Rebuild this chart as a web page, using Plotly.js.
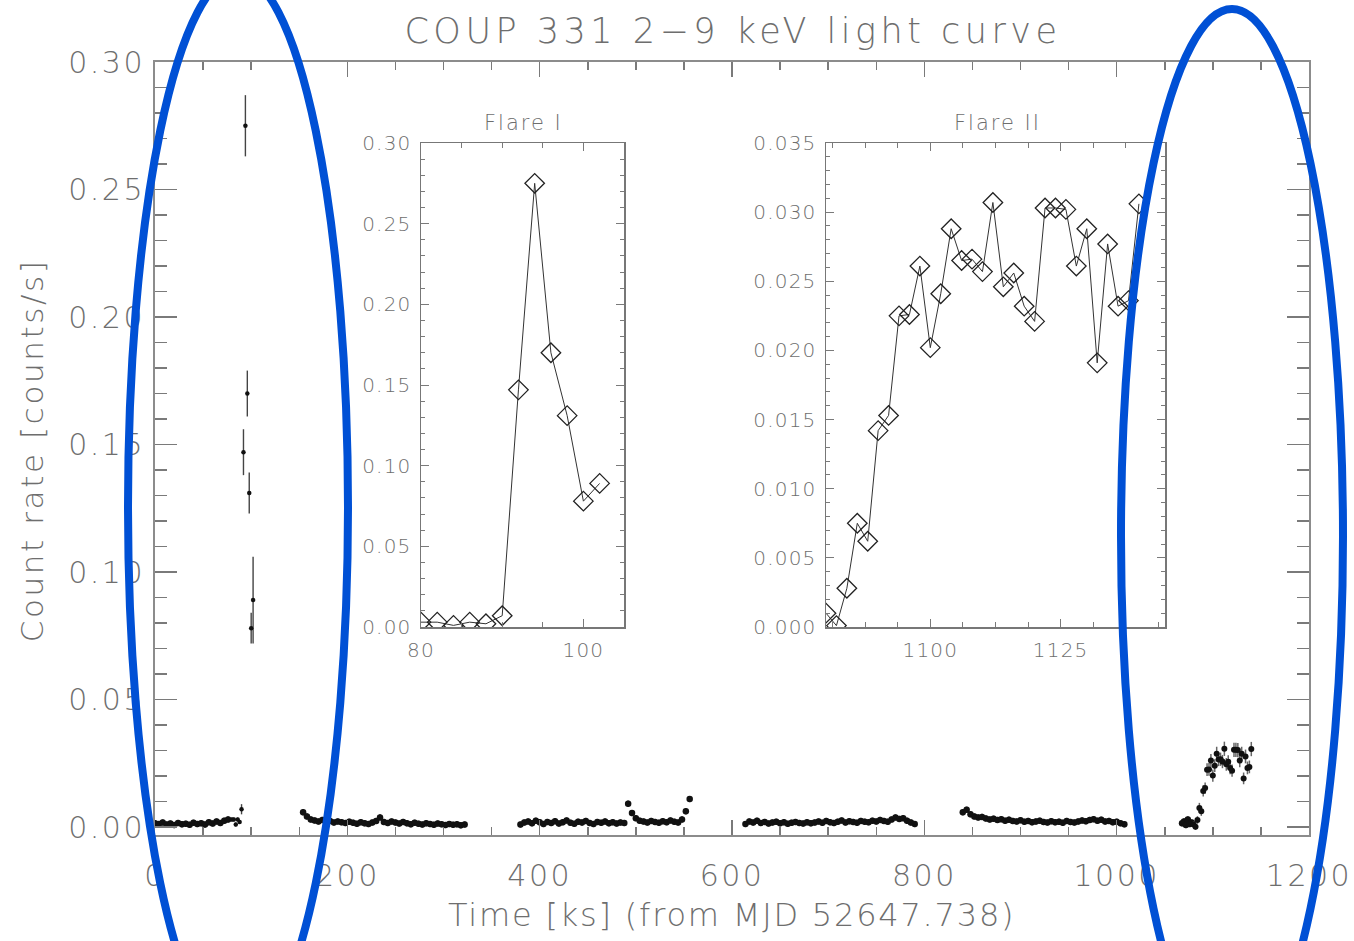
<!DOCTYPE html>
<html><head><meta charset="utf-8">
<script src="https://cdn.plot.ly/plotly-3.0.1.min.js"></script>
<style>
body{margin:0;background:#fff}
#chart svg text{letter-spacing:2.5px}
#chart svg .x2y2 text, #chart svg .x3y3 text{letter-spacing:1.2px}
#chart svg .gtitle{letter-spacing:4.5px}
#chart svg .annotation-text.xt{letter-spacing:1.8px}
#chart svg .annotation-text.yt{letter-spacing:2.6px}
#chart svg .annotation-text.it{letter-spacing:2px}
</style>
</head><body><div id="chart" style="width:1354px;height:941px"></div>
<script>
// ---- Data (time in ks from MJD 52647.738, count rate in counts/s) ----
const seg1X = [0,4,8,12,16,20,24,28,32,36,40,44,48,52,56,60,64,68,72,76];
const seg1Y = [0.0015,0.0012,0.0018,0.0010,0.0014,0.0008,0.0016,0.0011,0.0013,0.0009,0.0017,0.0012,0.0015,0.0010,0.0019,0.0014,0.0022,0.0016,0.0025,0.0030];

const seg2X = [154,158,162,166,170,174,178,182,186,190,194,198,202,206,210,214,218,222,226,230,234,238,242,246,250,254,258,262,266,270,274,278,282,286,290,294,298,302,306,310,314,318,322];
const seg2Y = [0.0058,0.0042,0.0030,0.0026,0.0022,0.0028,0.0020,0.0024,0.0018,0.0022,0.0019,0.0016,0.0021,0.0017,0.0013,0.0019,0.0015,0.0012,0.0018,0.0024,0.0038,0.0020,0.0016,0.0022,0.0018,0.0014,0.0020,0.0015,0.0011,0.0017,0.0013,0.0010,0.0015,0.0012,0.0009,0.0014,0.0011,0.0008,0.0012,0.0009,0.0011,0.0007,0.0010];

const seg3X = [380,384,388,392,396,400,404,408,412,416,420,424,428,432,436,440,444,448,452,456,460,464,468,472,476,480,484,488];
const seg3Y = [0.0010,0.0018,0.0022,0.0015,0.0025,0.0019,0.0012,0.0020,0.0016,0.0023,0.0014,0.0019,0.0026,0.0017,0.0013,0.0021,0.0018,0.0024,0.0016,0.0012,0.0020,0.0017,0.0022,0.0015,0.0019,0.0014,0.0018,0.0016];

const seg4X = [492,496,500,504,508,512,516,520,524,528,532,536,540,544,548,552,556];
const seg4Y = [0.0092,0.0055,0.0035,0.0025,0.0022,0.0018,0.0024,0.0020,0.0017,0.0023,0.0019,0.0026,0.0021,0.0018,0.0030,0.0062,0.0110];

const seg5X = [614,618,622,626,630,634,638,642,646,650,654,658,662,666,670,674,678,682,686,690,694,698,702,706,710,714,718,722,726,730,734,738,742,746,750,754,758,762,766,770,774,778,782,786,790];
const seg5Y = [0.0012,0.0022,0.0018,0.0025,0.0016,0.0020,0.0014,0.0018,0.0021,0.0015,0.0019,0.0013,0.0017,0.0020,0.0016,0.0014,0.0019,0.0015,0.0018,0.0022,0.0017,0.0024,0.0019,0.0016,0.0021,0.0026,0.0018,0.0023,0.0020,0.0017,0.0024,0.0021,0.0019,0.0025,0.0022,0.0028,0.0024,0.0021,0.0030,0.0038,0.0032,0.0035,0.0025,0.0018,0.0012];

const seg6X = [840,844,848,852,856,860,864,868,872,876,880,884,888,892,896,900,904,908,912,916,920,924,928,932,936,940,944,948,952,956,960,964,968,972,976,980,984,988,992,996,1000,1004,1008];
const seg6Y = [0.0058,0.0068,0.0050,0.0042,0.0038,0.0040,0.0034,0.0030,0.0033,0.0028,0.0031,0.0025,0.0029,0.0024,0.0022,0.0027,0.0021,0.0024,0.0019,0.0022,0.0025,0.0020,0.0018,0.0023,0.0019,0.0021,0.0017,0.0024,0.0020,0.0018,0.0022,0.0026,0.0023,0.0028,0.0031,0.0025,0.0029,0.0022,0.0024,0.0019,0.0021,0.0015,0.0011];

const preFlare2X = [1068,1070,1072,1074,1076,1078];
const preFlare2Y = [0.0015,0.0022,0.0008,0.0030,0.0012,0.0018];

const flare1X = [80,82,84,86,88,90,92,94,96,98,100,102];
const flare1Y = [0.003,0.003,0.001,0.003,0.002,0.007,0.147,0.275,0.170,0.131,0.078,0.089];
const flare1Err = [0.0008,0.0008,0.0008,0.0008,0.0008,0.002,0.009,0.012,0.009,0.008,0.006,0.017];

const flare2X = [1080,1082,1084,1086,1088,1090,1092,1094,1096,1098,1100,1102,1104,1106,1108,1110,1112,1114,1116,1118,1120,1122,1124,1126,1128,1130,1132,1134,1136,1138,1140];
const flare2Y = [0.0010,0.0001,0.0028,0.0075,0.0062,0.0142,0.0153,0.0225,0.0226,0.0261,0.0202,0.0241,0.0288,0.0265,0.0266,0.0257,0.0307,0.0246,0.0256,0.0232,0.0221,0.0303,0.0303,0.0302,0.0261,0.0288,0.0191,0.0277,0.0232,0.0236,0.0306];
const flare2Err = [0.0012,0.0012,0.0015,0.0020,0.0018,0.0022,0.0022,0.0025,0.0025,0.0026,0.0024,0.0025,0.0027,0.0026,0.0026,0.0026,0.0028,0.0025,0.0026,0.0025,0.0024,0.0028,0.0028,0.0028,0.0026,0.0027,0.0023,0.0027,0.0025,0.0025,0.0028];
const quietErr = 0.0012;

const mainTitle = 'COUP 331 2\u22129 keV light curve';
const xTitle = 'Time [ks] (from MJD 52647.738)';
const yTitle = 'Count rate [counts/s]';
const inset1Title = 'Flare I';
const inset2Title = 'Flare II';

// ---- Build ----
const quietX = [].concat(seg1X, seg2X, seg3X, seg4X, seg5X, seg6X, preFlare2X);
const quietY = [].concat(seg1Y, seg2Y, seg3Y, seg4Y, seg5Y, seg6Y, preFlare2Y);

const FONT = 'DejaVu Sans';
const WT = 200;
const TXT = '#6e6e6e';
const AX = '#8c8c8c';

const traces = [
  {x: quietX, y: quietY, type:'scatter', mode:'markers', marker:{color:'#111', size:6.5, symbol:'circle'},
   error_y:{type:'constant', value: quietErr, color:'#333', thickness:2, width:0},
   xaxis:'x', yaxis:'y', hoverinfo:'x+y'},
  {x: flare1X, y: flare1Y, type:'scatter', mode:'markers', marker:{color:'#111', size:4.5},
   error_y:{type:'data', array: flare1Err, color:'#444', thickness:1.4, width:0},
   xaxis:'x', yaxis:'y'},
  {x: flare2X, y: flare2Y, type:'scatter', mode:'markers', marker:{color:'#111', size:6, symbol:'circle'},
   error_y:{type:'data', array: flare2Err, color:'#666', thickness:1.5, width:0},
   xaxis:'x', yaxis:'y'},
  {x: flare1X, y: flare1Y, type:'scatter', mode:'lines+markers',
   line:{color:'#333', width:1},
   marker:{symbol:'diamond-open', size:15, color:'#222', line:{width:1.3}},
   xaxis:'x2', yaxis:'y2'},
  {x: flare2X, y: flare2Y, type:'scatter', mode:'lines+markers',
   line:{color:'#333', width:1},
   marker:{symbol:'diamond-open', size:15, color:'#222', line:{width:1.3}},
   xaxis:'x3', yaxis:'y3'}
];

function axis(o){
  return Object.assign({
    showline:true, linecolor:AX, linewidth:2, mirror:'ticks',
    ticks:'inside', tickcolor:'#7a7a7a', tickwidth:1.5,
    showgrid:false, zeroline:false, fixedrange:true,
    tickfont:{family:FONT, size:30, color:TXT, weight:WT}
  }, o);
}

const W = 1354, H = 941;
const px = v => v / W;
const py = v => 1 - v / H;
const smallFont = {family:FONT, size:20, color:TXT, weight:WT};

const layout = {
  width: W, height: H,
  margin:{l:0, r:0, t:0, b:0},
  paper_bgcolor:'#fff', plot_bgcolor:'rgba(0,0,0,0)',
  showlegend:false,
  font:{family:FONT, color:TXT, weight:WT},
  title:{text: mainTitle, x: px(733), xref:'paper', xanchor:'center', y: py(31), yref:'paper', yanchor:'middle',
         font:{family:FONT, size:35, color:TXT, weight:WT}},
  xaxis: axis({domain:[px(155), px(1309)], range:[0,1200], anchor:'y',
    tick0:0, dtick:200, ticklen:15, ticklabelstandoff:13,
    minor:{ticks:'inside', dtick:50, ticklen:8, tickcolor:'#7a7a7a', tickwidth:1.5}}),
  yaxis: axis({domain:[py(835), py(62)], range:[-0.0031, 0.30], anchor:'x',
    tick0:0, dtick:0.05, tickformat:'.2f', ticklen:22, ticklabelstandoff:2,
    minor:{ticks:'inside', dtick:0.01, ticklen:12, tickcolor:'#7a7a7a', tickwidth:1.5}}),
  xaxis2: axis({domain:[px(421), px(624)], range:[80,105], anchor:'y2',
    linewidth:1.5, linecolor:'#777', tick0:80, dtick:20, ticklen:8, tickwidth:1,
    tickfont:smallFont, ticklabelstandoff:4,
    minor:{ticks:'inside', dtick:5, ticklen:5, tickcolor:'#7a7a7a', tickwidth:1}}),
  yaxis2: axis({domain:[py(627), py(143)], range:[0,0.30], anchor:'x2',
    linewidth:1.5, linecolor:'#777', tick0:0, dtick:0.05, tickformat:'.2f', ticklen:8, tickwidth:1,
    tickfont:smallFont, ticklabelstandoff:4,
    minor:{ticks:'inside', dtick:0.01, ticklen:4, tickcolor:'#7a7a7a', tickwidth:1}}),
  xaxis3: axis({domain:[px(826), px(1165)], range:[1080,1145], anchor:'y3',
    linewidth:1.5, linecolor:'#777', tick0:1100, dtick:25, ticklen:8, tickwidth:1,
    tickfont:smallFont, ticklabelstandoff:4,
    minor:{ticks:'inside', tick0:1100, dtick:6.25, ticklen:5, tickcolor:'#7a7a7a', tickwidth:1}}),
  yaxis3: axis({domain:[py(627), py(143)], range:[0,0.035], anchor:'x3',
    linewidth:1.5, linecolor:'#777', tick0:0, dtick:0.005, tickformat:'.3f', ticklen:8, tickwidth:1,
    tickfont:smallFont, ticklabelstandoff:4,
    minor:{ticks:'inside', dtick:0.001, ticklen:4, tickcolor:'#7a7a7a', tickwidth:1}}),
  annotations:[
    {text:xTitle, xref:'paper', yref:'paper', x:px(732), y:py(915), xanchor:'center', yanchor:'middle',
     showarrow:false, font:{family:FONT, size:32, color:TXT, weight:WT}},
    {text:yTitle, xref:'paper', yref:'paper', x:px(32), y:py(451), xanchor:'center', yanchor:'middle',
     textangle:-90, showarrow:false, font:{family:FONT, size:31, color:TXT, weight:WT}},
    {text:inset1Title, xref:'paper', yref:'paper', x:px(523), y:py(123), xanchor:'center', yanchor:'middle',
     showarrow:false, font:{family:FONT, size:21, color:TXT, weight:WT}},
    {text:inset2Title, xref:'paper', yref:'paper', x:px(997), y:py(123), xanchor:'center', yanchor:'middle',
     showarrow:false, font:{family:FONT, size:21, color:TXT, weight:WT}}
  ],
  shapes:[
    {type:'circle', xref:'paper', yref:'paper', x0:px(128), x1:px(348), y0:py(1039), y1:py(-25),
     line:{color:'#0050d5', width:8}, layer:'above'},
    {type:'circle', xref:'paper', yref:'paper', x0:px(1121), x1:px(1343), y0:py(1063), y1:py(9),
     line:{color:'#0050d5', width:8}, layer:'above'}
  ]
};

Plotly.newPlot('chart', traces, layout, {staticPlot:true, displayModeBar:false}).then(() => {
  const anns = document.querySelectorAll('#chart .annotation-text');
  const cls = ['xt','yt','it','it'];
  anns.forEach((a, i) => { if (cls[i]) a.classList.add(cls[i]); });
});
</script>
</body></html>
